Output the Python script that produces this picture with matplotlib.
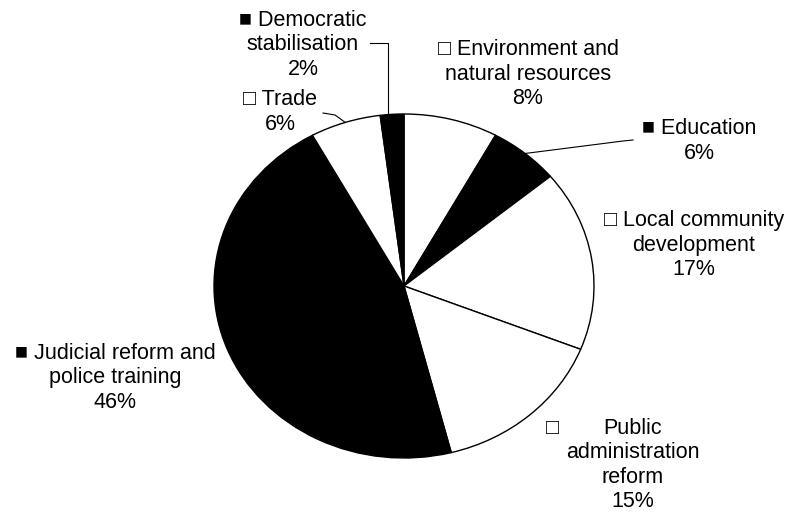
import numpy as np
import matplotlib.pyplot as plt

plt.rcParams['font.family'] = ['Liberation Sans', 'DejaVu Sans']

sectors = ['Environment and\nnatural resources', 'Education', 'Local community\ndevelopment',
           'Public\nadministration\nreform', 'Judicial reform and\npolice training', 'Trade',
           'Democratic\nstabilisation']
shares = [8, 6, 17, 15, 46, 6, 2]
fills = ['white', 'black', 'white', 'white', 'black', 'white', 'black']

W, H = 786, 512
cx, cy, rx, ry = 404, 286, 190, 172


def px(x, y):
    # pixel position (from top-left) -> data coords of the unit pie
    return (x - cx) / rx, (cy - y) / ry


fig = plt.figure(figsize=(W / 100, H / 100), dpi=100)
ax = fig.add_axes([0, 0, 1, 1])
wedges, _ = ax.pie(shares, colors=fills, startangle=90, counterclock=False,
                   wedgeprops=dict(edgecolor='black', linewidth=1.0))
ax.set_aspect('auto')
x0, y0 = px(0, H)
x1, y1 = px(W, 0)
ax.set_xlim(x0, x1)
ax.set_ylim(y0, y1)
ax.axis('off')


def edge(i):
    w = wedges[i]
    a = np.deg2rad((w.theta1 + w.theta2) / 2)
    return np.cos(a), np.sin(a)


fs = 15.5
ls = 1.2
box = {'white': '\u25a1', 'black': '\u25a0'}

# label text centres in pixels
spots = {0: (528, 74), 1: (699, 141), 2: (694, 245), 4: (115, 378), 5: (280, 112), 6: (303, 45)}
for i, (x, y) in spots.items():
    lines = sectors[i].split('\n')
    lines[0] = box[fills[i]] + ' ' + lines[0]
    txt = '\n'.join(lines) + '\n%d%%' % shares[i]
    ax.text(*px(x, y), txt, ha='center', va='center', fontsize=fs, linespacing=ls)

# public administration: key sits apart from the text
ax.text(*px(552, 429), box[fills[3]], ha='center', va='center', fontsize=fs)
ax.text(*px(633, 465), sectors[3] + '\n%d%%' % shares[3], ha='center', va='center',
        fontsize=fs, linespacing=ls)

# leader lines
for i, pts in [(6, [(370, 43), (388, 43)]), (5, [(323, 113), (335, 115)]),
               (1, [(633, 140), (623, 141)])]:
    xs = [px(*p)[0] for p in pts] + [edge(i)[0]]
    ys = [px(*p)[1] for p in pts] + [edge(i)[1]]
    if i == 6:
        xs[-1] = xs[-2]
    ax.plot(xs, ys, color='black', linewidth=0.8)

fig.savefig('out.png', dpi=100)
